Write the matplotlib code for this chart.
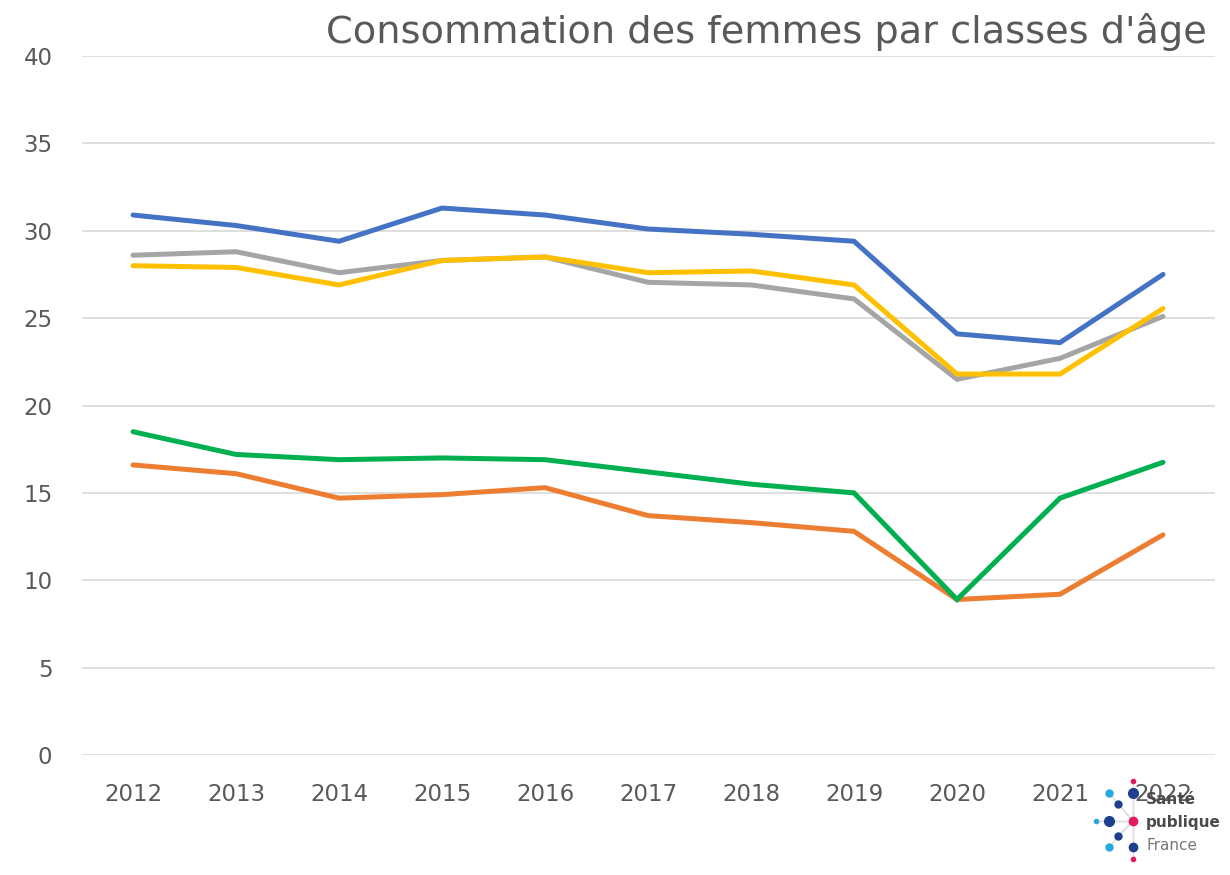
import matplotlib
matplotlib.use("Agg")
import matplotlib.pyplot as plt

years = [2012, 2013, 2014, 2015, 2016, 2017, 2018, 2019, 2020, 2021, 2022]

blue = [30.9, 30.3, 29.4, 31.3, 30.9, 30.1, 29.8, 29.4, 24.1, 23.6, 27.5]
orange = [16.6, 16.1, 14.7, 14.9, 15.3, 13.7, 13.3, 12.8, 8.9, 9.2, 12.6]
grey = [28.6, 28.8, 27.6, 28.3, 28.5, 27.05, 26.9, 26.1, 21.5, 22.7, 25.1]
yellow = [28.0, 27.9, 26.9, 28.3, 28.5, 27.6, 27.7, 26.9, 21.8, 21.8, 25.55]
green = [18.5, 17.2, 16.9, 17.0, 16.9, 16.2, 15.5, 15.0, 8.9, 14.7, 16.75]

series = [
    (blue, '#4472C4'),
    (orange, '#ED7D31'),
    (grey, '#A5A5A5'),
    (yellow, '#FFC000'),
    (green, '#00B050'),
]

fig = plt.figure(figsize=(12.3, 8.75), dpi=100)
ax = fig.add_axes([0.0663, 0.1371, 0.9211, 0.7989])

x = list(range(len(years)))
for vals, col in series:
    ax.plot(x, vals, color=col, lw=3.6, solid_capstyle='round', solid_joinstyle='miter')

ax.set_xlim(-0.5, len(years) - 0.5)
ax.set_ylim(0, 40)
ax.set_yticks(range(0, 41, 5))
ax.set_xticks(x)
ax.set_xticklabels([str(y) for y in years])
ax.grid(axis='y', color='#d9d9d9', lw=1.2)
ax.set_axisbelow(True)
for s in ax.spines.values():
    s.set_visible(False)
ax.tick_params(length=0, labelsize=16.5, colors='#595959')
ax.tick_params(axis='x', pad=20)
ax.tick_params(axis='y', pad=21)

fig.text(0.981, 0.963, "Consommation des femmes par classes d'âge", ha='right', va='center',
         fontsize=27.5, color='#595959')

# logo Santé publique France
dots = [(1133, 781, 3, '#E5195E'), (1109, 793, 5, '#27A8E0'), (1133, 793, 7, '#1D3F8E'),
        (1118, 804, 5, '#1D3F8E'), (1096, 821, 3, '#27A8E0'), (1109, 821, 7, '#1D3F8E'),
        (1133, 821, 6, '#E5195E'), (1118, 836, 5, '#1D3F8E'), (1109, 847, 5, '#27A8E0'),
        (1133, 847, 6, '#1D3F8E'), (1133, 859, 3, '#E5195E')]
W, H = 1230, 875
for px, py, r, c in dots:
    fig.add_artist(plt.Line2D([1133 / W, px / W], [1 - 821 / H, 1 - py / H], color='#dddddd', lw=1))
for px, py, r, c in dots:
    fig.add_artist(plt.Line2D([px / W], [1 - py / H], marker='o', ms=r, color=c, mec=c))
fig.text(1146 / W, 1 - 800 / H, "Santé", fontsize=11, fontweight='bold', color='#4a4a4a', va='center')
fig.text(1146 / W, 1 - 822 / H, "publique", fontsize=11, fontweight='bold', color='#4a4a4a', va='center')
fig.text(1146 / W, 1 - 846 / H, "France", fontsize=11, color='#777777', va='center')

fig.savefig("out.png", dpi=100)
